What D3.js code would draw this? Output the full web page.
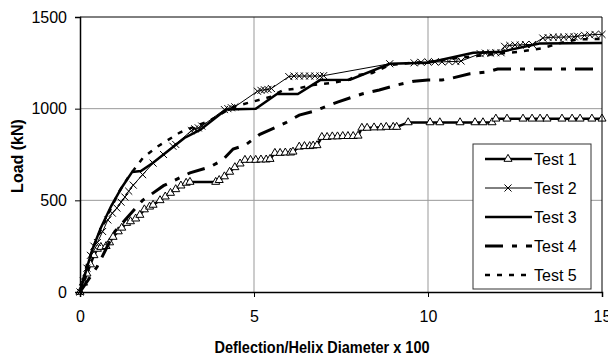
<!DOCTYPE html>
<html>
<head>
<meta charset="utf-8">
<script src="https://cdn.jsdelivr.net/npm/d3@7"></script>
<style>
  body { margin: 0; background: #fff; }
  svg { display: block; font-family: "Liberation Sans", Arial, sans-serif; }
</style>
</head>
<body>
<svg width="608" height="358"></svg>
<script>
// load-deflection data, [deflection/D*100, load kN]
const test1 = [[0,0],[0.1,50],[0.2,100],[0.3,150],[0.4,200],[0.5,235],[0.6,245],[0.75,250],[0.85,270],[0.95,300],
  [1.1,330],[1.2,350],[1.34,376],[1.45,385],[1.6,400],[1.72,420],[1.85,450],[2.0,465],[2.1,475],[2.3,500],
  [2.45,520],[2.6,540],[2.75,560],[2.9,580],[3.05,595],[3.16,600],[3.9,600],[4.0,610],[4.15,630],[4.3,655],
  [4.45,680],[4.6,700],[4.74,720],[4.9,720],[5.05,720],[5.2,722],[5.35,722],[5.46,725],[5.6,758],[5.75,758],
  [5.9,760],[6.05,760],[6.12,765],[6.3,792],[6.45,795],[6.6,795],[6.7,798],[6.81,800],[6.95,845],[7.1,845],
  [7.25,848],[7.4,848],[7.55,850],[7.7,850],[7.85,850],[7.99,852],[8.1,895],[8.25,895],[8.45,897],[8.65,897],
  [8.8,900],[9.0,900],[9.1,900],[9.43,925],[10.06,925],[10.34,925],[10.92,925],[11.35,925],[11.58,925],[11.84,925],
  [11.95,945],[12.27,945],[12.73,945],[12.99,945],[13.22,945],[13.42,945],[13.85,945],[14.14,945],[14.37,945],
  [14.71,945],[15.0,945]];
const test2 = [[0,0],[0.1,60],[0.2,130],[0.3,200],[0.4,250],[0.5,270],[0.65,330],[0.8,393],[0.93,430],[1.06,458],
  [1.18,490],[1.29,518],[1.4,550],[1.53,583],[1.8,640],[2.1,703],[2.4,750],[2.67,795],[2.75,805],[3.2,880],
  [3.3,890],[3.4,895],[3.5,905],[4.15,995],[4.25,1000],[4.35,1005],[4.45,1010],[5.1,1095],[5.2,1100],[5.3,1103],
  [5.4,1105],[5.5,1110],[6.0,1175],[6.15,1178],[6.3,1178],[6.45,1178],[6.6,1178],[6.75,1178],[6.9,1178],[7.0,1180],
  [8.9,1245],[9.6,1250],[9.8,1253],[10.0,1255],[10.2,1255],[10.4,1255],[10.6,1257],[10.8,1257],[10.95,1260],
  [11.5,1300],[11.65,1303],[11.8,1303],[11.95,1305],[12.1,1305],[12.2,1340],[12.35,1345],[12.5,1347],[12.65,1347],
  [12.8,1350],[13.0,1350],[13.3,1385],[13.45,1388],[13.6,1390],[13.75,1390],[13.9,1390],[14.05,1392],[14.2,1392],
  [14.3,1395],[14.5,1400],[14.65,1402],[14.8,1405],[15.0,1405]];
const test3 = [[0,0],[0.15,100],[0.35,230],[0.6,350],[0.9,470],[1.2,570],[1.5,655],[1.75,660],[2.1,705],[2.7,795],
  [3.0,840],[3.45,884],[4.2,995],[5.05,1000],[5.66,1080],[6.26,1080],[6.9,1156],[7.76,1158],[8.9,1245],[10.0,1250],
  [11.3,1305],[12.1,1310],[13.2,1355],[15,1358]];
const test4 = [[0,0],[0.5,140],[1.0,330],[1.8,500],[2.4,580],[3.16,650],[3.73,682],[4.1,720],[4.4,780],[4.74,800],
  [5.17,860],[5.46,884],[5.9,922],[6.3,965],[6.7,985],[6.95,1003],[7.4,1036],[8.1,1080],[8.6,1102],[9.1,1129],
  [9.6,1150],[10.0,1156],[10.4,1156],[10.7,1167],[11.2,1190],[11.7,1200],[12.0,1216],[15,1216]];
const test5 = [[0,0],[0.2,150],[0.5,300],[0.8,420],[1.1,540],[1.4,630],[1.8,730],[2.2,790],[2.87,870],[3.2,895],
  [3.73,935],[4.4,1010],[5.0,1040],[5.46,1064],[5.83,1100],[6.3,1112],[6.7,1129],[7.24,1140],[7.7,1156],[8.0,1184],
  [8.4,1195],[8.9,1238],[9.5,1250],[10.0,1255],[11.0,1280],[12.0,1300],[12.6,1310],[13.3,1330],[13.8,1358],
  [14.3,1378],[15,1380]];

const seriesNames = ["Test 1", "Test 2", "Test 3", "Test 4", "Test 5"];
const xTicks = [0, 5, 10, 15];
const yTicks = [0, 500, 1000, 1500];

const styles = [
  { width: 2.5, dash: null, marker: "tri" },
  { width: 1, dash: null, marker: "x" },
  { width: 2.5, dash: null, marker: null },
  { width: 3, dash: "18,9,5,9", marker: null },
  { width: 2.5, dash: "5,7", marker: null }
];
const allData = [test1, test2, test3, test4, test5];

const svg = d3.select("svg");
const pLeft = 80, pRight = 602, pTop = 17, pBottom = 292;
const x = d3.scaleLinear().domain([0, 15]).range([pLeft, pRight]);
const y = d3.scaleLinear().domain([0, 1500]).range([pBottom, pTop]);

// grid
svg.append("g").selectAll("line").data(xTicks.slice(1, -1)).enter().append("line")
  .attr("x1", d => x(d)).attr("x2", d => x(d)).attr("y1", pTop).attr("y2", pBottom)
  .attr("stroke", "#999").attr("stroke-width", 1);
svg.append("g").selectAll("line").data(yTicks.slice(1, -1)).enter().append("line")
  .attr("x1", pLeft).attr("x2", pRight).attr("y1", d => y(d)).attr("y2", d => y(d))
  .attr("stroke", "#999").attr("stroke-width", 1);

// series
const line = d3.line().x(d => x(d[0])).y(d => y(d[1]));
const tri = d3.symbol(d3.symbolTriangle).size(28);
const cross = d3.symbol(d3.symbolTimes).size(34);

allData.forEach((data, i) => {
  const s = styles[i];
  svg.append("path").datum(data).attr("d", line)
    .attr("fill", "none").attr("stroke", "#000")
    .attr("stroke-width", s.width)
    .attr("stroke-dasharray", s.dash);
  if (s.marker) {
    svg.append("g").selectAll("path").data(data).enter().append("path")
      .attr("d", s.marker == "tri" ? tri : cross)
      .attr("transform", d => `translate(${x(d[0])},${y(d[1])})`)
      .attr("fill", "#fff").attr("stroke", "#000").attr("stroke-width", 1);
  }
});

// border
svg.append("line").attr("x1", pLeft).attr("x2", pRight).attr("y1", pTop).attr("y2", pTop).attr("stroke", "#000");
svg.append("line").attr("x1", pRight).attr("x2", pRight).attr("y1", pTop).attr("y2", pBottom).attr("stroke", "#000");

// axes
const xAxis = svg.append("g").attr("transform", `translate(0,${pBottom})`)
  .call(d3.axisBottom(x).tickValues(xTicks).tickFormat(d3.format("d")).tickSize(5).tickPadding(14));
const yAxis = svg.append("g").attr("transform", `translate(${pLeft},0)`)
  .call(d3.axisLeft(y).tickValues(yTicks).tickFormat(d3.format("d")).tickSize(5).tickPadding(8));
[xAxis, yAxis].forEach(a => {
  a.select(".domain").attr("stroke-width", 1.5);
  a.selectAll("text").attr("font-size", 16).attr("font-family", "Liberation Sans, Arial, sans-serif");
});

svg.append("text").attr("x", 322).attr("y", 353)
  .attr("text-anchor", "middle").attr("font-weight", "bold").attr("font-size", 16)
  .attr("textLength", 215).attr("lengthAdjust", "spacingAndGlyphs")
  .text("Deflection/Helix Diameter x 100");
svg.append("text").attr("transform", "translate(23,156) rotate(-90)")
  .attr("text-anchor", "middle").attr("font-weight", "bold").attr("font-size", 16)
  .text("Load (kN)");

// legend
const lg = svg.append("g");
lg.append("rect").attr("x", 473).attr("y", 144).attr("width", 118).attr("height", 145)
  .attr("fill", "#fff").attr("stroke", "#333").attr("stroke-width", 1);
seriesNames.forEach((name, i) => {
  const s = styles[i];
  const ly = 159 + i * 29;
  lg.append("line").attr("x1", 485).attr("x2", 532).attr("y1", ly).attr("y2", ly)
    .attr("stroke", "#000").attr("stroke-width", s.width).attr("stroke-dasharray", s.dash);
  if (s.marker) {
    lg.append("path").attr("d", s.marker == "tri" ? tri : cross)
      .attr("transform", `translate(508,${ly})`)
      .attr("fill", "#fff").attr("stroke", "#000");
  }
  lg.append("text").attr("x", 534).attr("y", ly + 6).attr("font-size", 16).text(name);
});
</script>
</body>
</html>
